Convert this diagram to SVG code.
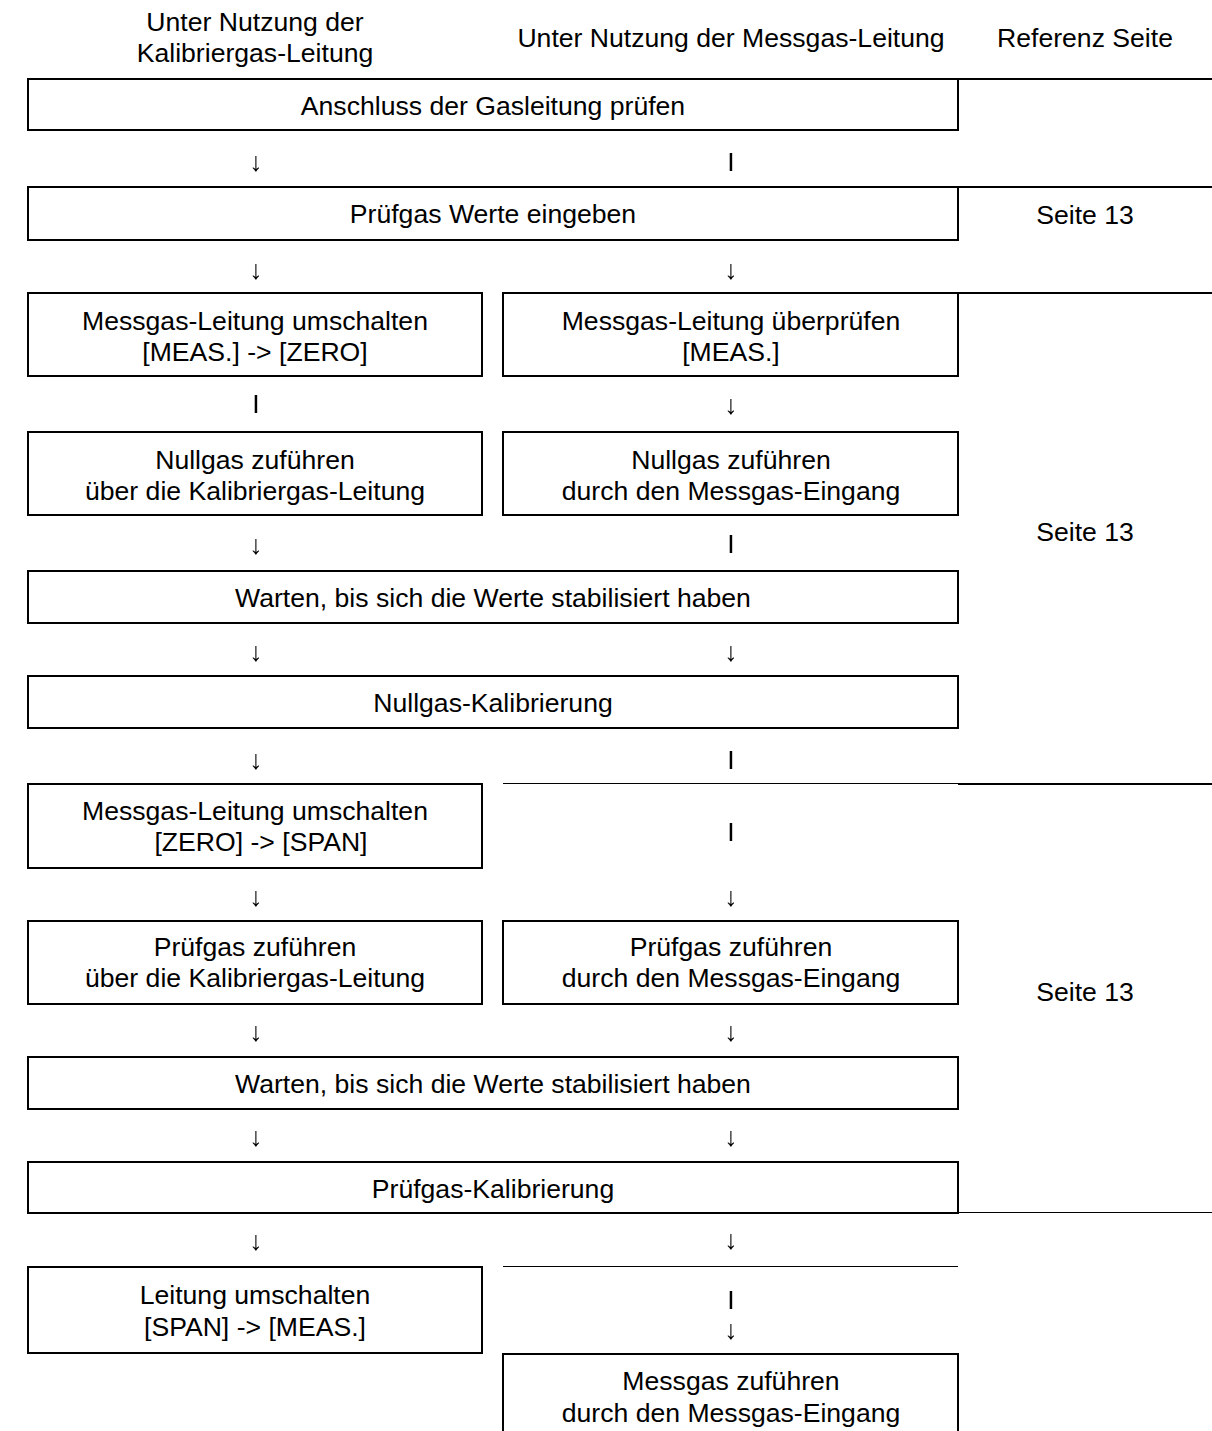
<svg xmlns="http://www.w3.org/2000/svg" width="1212" height="1431" viewBox="0 0 1212 1431">
<defs>
<filter id="gray" x="0" y="0" width="1212" height="1431" filterUnits="userSpaceOnUse"><feColorMatrix type="saturate" values="0"/></filter>
</defs>
<style>
text{font-family:"Liberation Sans",Arial,sans-serif;font-size:26.6px;fill:#000;text-anchor:middle}
.box{fill:#fff;stroke:#000;stroke-width:2}
.thick{stroke:#000;stroke-width:2;fill:none}
.thin{stroke:#000;stroke-width:1;fill:none}
.arr{fill:#000}
.bold{font-weight:bold}
</style>
<rect width="1212" height="1431" fill="#fff"/>
<g id="headers">
<text x="255" y="31">Unter Nutzung der</text>
<text x="255" y="62">Kalibriergas-Leitung</text>
<text x="731" y="47">Unter Nutzung der Messgas-Leitung</text>
<text x="1085" y="47">Referenz Seite</text>
</g>
<g id="reference-column">
<line class="thick" x1="958" y1="79" x2="1212" y2="79"/>
<line class="thick" x1="958" y1="187" x2="1212" y2="187"/>
<line class="thick" x1="958" y1="293" x2="1212" y2="293"/>
<line class="thin" x1="503" y1="783.5" x2="958" y2="783.5"/>
<line class="thick" x1="958" y1="784" x2="1212" y2="784"/>
<line class="thin" x1="958" y1="1212.5" x2="1212" y2="1212.5"/>
<line class="thin" x1="503" y1="1266.5" x2="958" y2="1266.5"/>
<text x="1085" y="224">Seite 13</text>
<text x="1085" y="541">Seite 13</text>
<text x="1085" y="1001">Seite 13</text>
</g>
<g id="n1"><rect class="box" x="28" y="79" width="930" height="51"/><text x="493" y="115">Anschluss der Gasleitung prüfen</text></g>
<g id="n2"><rect class="box" x="28" y="187" width="930" height="53"/><text x="493" y="223">Prüfgas Werte eingeben</text></g>
<g id="n3a"><rect class="box" x="28" y="293" width="454" height="83"/><text x="255" y="330">Messgas-Leitung umschalten</text><text x="255" y="361">[MEAS.] -&gt; [ZERO]</text></g>
<g id="n3b"><rect class="box" x="503" y="293" width="455" height="83"/><text x="731" y="330">Messgas-Leitung überprüfen</text><text x="731" y="361">[MEAS.]</text></g>
<g id="n4a"><rect class="box" x="28" y="432" width="454" height="83"/><text x="255" y="469">Nullgas zuführen</text><text x="255" y="500">über die Kalibriergas-Leitung</text></g>
<g id="n4b"><rect class="box" x="503" y="432" width="455" height="83"/><text x="731" y="469">Nullgas zuführen</text><text x="731" y="500">durch den Messgas-Eingang</text></g>
<g id="n5"><rect class="box" x="28" y="571" width="930" height="52"/><text x="493" y="607">Warten, bis sich die Werte stabilisiert haben</text></g>
<g id="n6"><rect class="box" x="28" y="676" width="930" height="52"/><text x="493" y="712">Nullgas-Kalibrierung</text></g>
<g id="n7a"><rect class="box" x="28" y="784" width="454" height="84"/><text x="255" y="820">Messgas-Leitung umschalten</text><text x="261" y="851">[ZERO] -&gt; [SPAN]</text></g>
<g id="n8a"><rect class="box" x="28" y="921" width="454" height="83"/><text x="255" y="956">Prüfgas zuführen</text><text x="255" y="987">über die Kalibriergas-Leitung</text></g>
<g id="n8b"><rect class="box" x="503" y="921" width="455" height="83"/><text x="731" y="956">Prüfgas zuführen</text><text x="731" y="987">durch den Messgas-Eingang</text></g>
<g id="n9"><rect class="box" x="28" y="1057" width="930" height="52"/><text x="493" y="1093">Warten, bis sich die Werte stabilisiert haben</text></g>
<g id="n10"><rect class="box" x="28" y="1162" width="930" height="51"/><text x="493" y="1198">Prüfgas-Kalibrierung</text></g>
<g id="n11a"><rect class="box" x="28" y="1267" width="454" height="86"/><text x="255" y="1304">Leitung umschalten</text><text x="255" y="1336">[SPAN] -&gt; [MEAS.]</text></g>
<g id="n11b"><rect class="box" x="503" y="1354" width="455" height="100"/><text x="731" y="1390">Messgas zuführen</text><text x="731" y="1422">durch den Messgas-Eingang</text></g>
<g id="connectors" filter="url(#gray)">
<text class="arr" x="256" y="171">↓</text><text x="731" y="171">I</text>
<text class="arr" x="256" y="279">↓</text><text class="arr" x="731" y="279">↓</text>
<text x="256" y="413">I</text><text class="arr" x="731" y="414">↓</text>
<text class="arr" x="256" y="554">↓</text><text x="731" y="553">I</text>
<text class="arr" x="256" y="661">↓</text><text class="arr" x="731" y="661">↓</text>
<text class="arr" x="256" y="769">↓</text><text x="731" y="769">I</text>
<text x="731" y="841">I</text>
<text class="arr" x="256" y="906">↓</text><text class="arr" x="731" y="906">↓</text>
<text class="arr" x="256" y="1041">↓</text><text class="arr" x="731" y="1041">↓</text>
<text class="arr" x="256" y="1146">↓</text><text class="arr" x="731" y="1146">↓</text>
<text class="arr" x="256" y="1250">↓</text><text class="bold" x="731" y="1249">↓</text>
<text x="731" y="1309">I</text><text class="arr" x="731" y="1339">↓</text>
</g>
</svg>
